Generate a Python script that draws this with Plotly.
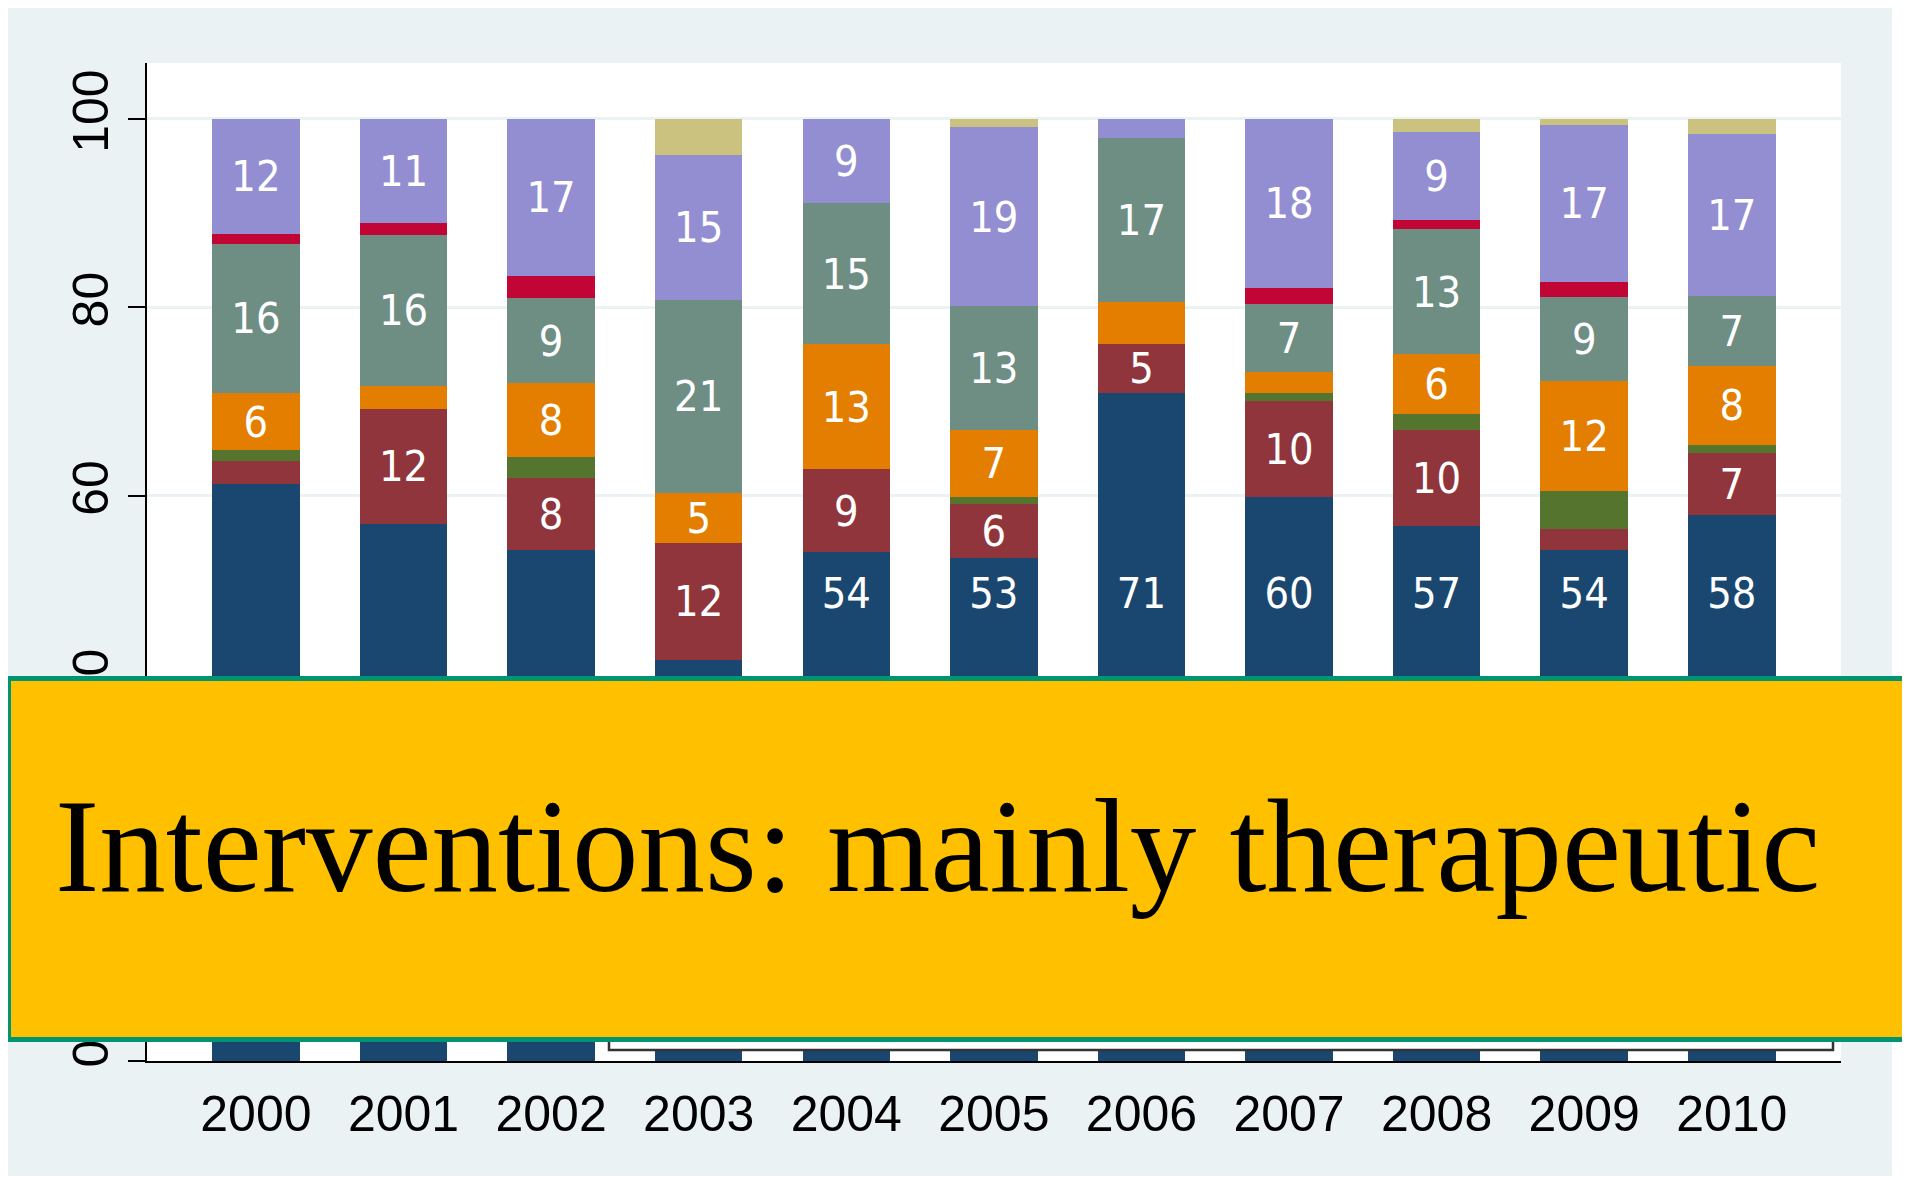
import plotly.graph_objects as go

# ── data: share of interventions by type, per year (bottom → top of the stack) ──
years = ["2000", "2001", "2002", "2003", "2004", "2005",
         "2006", "2007", "2008", "2009", "2010"]

navy = [61.2, 57.0, 54.2, 42.6, 54.0, 53.4, 70.9, 59.8, 56.8, 54.2, 57.9]
maroon = [2.5, 12.2, 7.7, 12.4, 8.8, 5.7, 5.2, 10.2, 10.2, 2.2, 6.6]
forest = [1.1, 0.0, 2.2, 0.0, 0.0, 0.8, 0.0, 0.9, 1.7, 4.1, 0.9]
dkorange = [6.1, 2.4, 7.8, 5.3, 13.3, 7.1, 4.4, 2.2, 6.3, 11.7, 8.4]
teal = [15.8, 16.1, 9.1, 20.5, 14.9, 13.1, 17.4, 7.2, 13.3, 8.9, 7.4]
cranberry = [1.1, 1.2, 2.3, 0.0, 0.0, 0.0, 0.0, 1.7, 0.9, 1.6, 0.0]
lavender = [12.2, 11.1, 16.7, 15.3, 9.0, 19.0, 2.1, 18.0, 9.4, 16.6, 17.2]
khaki = [0.0, 0.0, 0.0, 3.9, 0.0, 0.9, 0.0, 0.0, 1.4, 0.7, 1.6]

# which years have the bottom (navy) label visible above the overlay
navy_label_shown = [False, False, False, False, True, True,
                    True, True, True, True, True]

y_ticks = [0, 20, 40, 60, 80, 100]
title_text = "Interventions: mainly therapeutic"

# ── styling (Stata s2color look) ────────────────────────────────────────────
BG = "#EAF2F3"
W, H = 1910, 1180
OFF = 8  # the page body margin shifts the figure 8px right/down
L, R, T, B = 139, 77, 55, 127
LABEL_FONT = dict(family="Liberation Sans Narrow, Arial Narrow, DejaVu Sans Condensed, sans-serif",
                  size=43, color="white")
NAVY_LABEL_Y = 49.2

series = [
    ("navy", navy, "#1A476F"),
    ("maroon", maroon, "#90353B"),
    ("forest_green", forest, "#55752F"),
    ("dkorange", dkorange, "#E37E00"),
    ("teal", teal, "#6E8E84"),
    ("cranberry", cranberry, "#C10534"),
    ("lavender", lavender, "#938DD2"),
    ("khaki", khaki, "#CAC27E"),
]


def label(v):
    return str(int(v + 0.5)) if v >= 4.5 else ""


# screen pixel -> paper coordinates
def px_x(p):
    return (p - OFF - L) / (W - L - R)


def px_y(p):
    return (H - B - (p - OFF)) / (H - T - B)


fig = go.Figure()

for name, vals, col in series:
    txt = [""] * len(vals) if name == "navy" else [label(v) for v in vals]
    fig.add_trace(go.Bar(
        x=years, y=vals, name=name,
        marker=dict(color=col, line=dict(width=0)),
        text=txt, textposition="inside", insidetextanchor="middle",
        textangle=0, textfont=LABEL_FONT, hoverinfo="skip",
    ))

# navy labels sit higher up in the bar in the original
fig.add_trace(go.Scatter(
    x=[y for y, s in zip(years, navy_label_shown) if s],
    y=[NAVY_LABEL_Y] * sum(navy_label_shown),
    text=[label(v) for v, s in zip(navy, navy_label_shown) if s],
    mode="text", textfont=LABEL_FONT, hoverinfo="skip", showlegend=False,
))

shapes = [
    # thin white page edges on the right and bottom of the grey graph region
    dict(type="rect", x0=px_x(1892), x1=px_x(W + 20), y0=px_y(-20), y1=px_y(H + 20)),
    dict(type="rect", x0=px_x(-20), x1=px_x(W + 20), y0=px_y(1176), y1=px_y(H + 20)),
]
for s in shapes:
    s.update(xref="paper", yref="paper", fillcolor="white", line=dict(width=0), layer="below")

# legend box partly hidden behind the callout
shapes.append(dict(type="rect", xref="paper", yref="paper",
                   x0=px_x(609), x1=px_x(1833), y0=px_y(1050), y1=px_y(700),
                   fillcolor="white", line=dict(color="#333333", width=2.5), layer="above"))
# yellow callout
shapes.append(dict(type="rect", xref="paper", yref="paper",
                   x0=px_x(8.5), x1=px_x(W + 20), y0=px_y(1039.5), y1=px_y(678.5),
                   fillcolor="#FFC000", line=dict(color="#009473", width=5), layer="above"))

fig.update_layout(
    barmode="stack", bargap=0.407,
    width=W, height=H, autosize=False,
    margin=dict(l=L, r=R, t=T, b=B, pad=0),
    paper_bgcolor=BG, plot_bgcolor="white",
    showlegend=False,
    shapes=shapes,
    font=dict(family="Liberation Sans, Arial, sans-serif", color="black"),
    uniformtext=dict(minsize=43, mode="show"),
    annotations=[dict(
        text=title_text, xref="paper", yref="paper",
        x=px_x(53), y=px_y(846), xanchor="left", yanchor="middle",
        showarrow=False,
        font=dict(family="Liberation Serif, Times New Roman, serif", size=133, color="black"),
    )],
)

fig.update_xaxes(
    type="category", range=[-0.738, 10.74],
    showgrid=False, ticks="", showline=True, linecolor="black", linewidth=2,
    tickfont=dict(size=50), ticklabelstandoff=8, zeroline=False,
)
fig.update_yaxes(
    range=[0, 105.9], tickvals=y_ticks, ticktext=[str(t) for t in y_ticks],
    tickangle=-90, tickfont=dict(size=50),
    ticks="outside", ticklen=17, tickwidth=2, tickcolor="black",
    showline=True, linecolor="black", linewidth=2,
    showgrid=True, gridcolor=BG, gridwidth=3, zeroline=False,
)

fig.write_html("out.html")
